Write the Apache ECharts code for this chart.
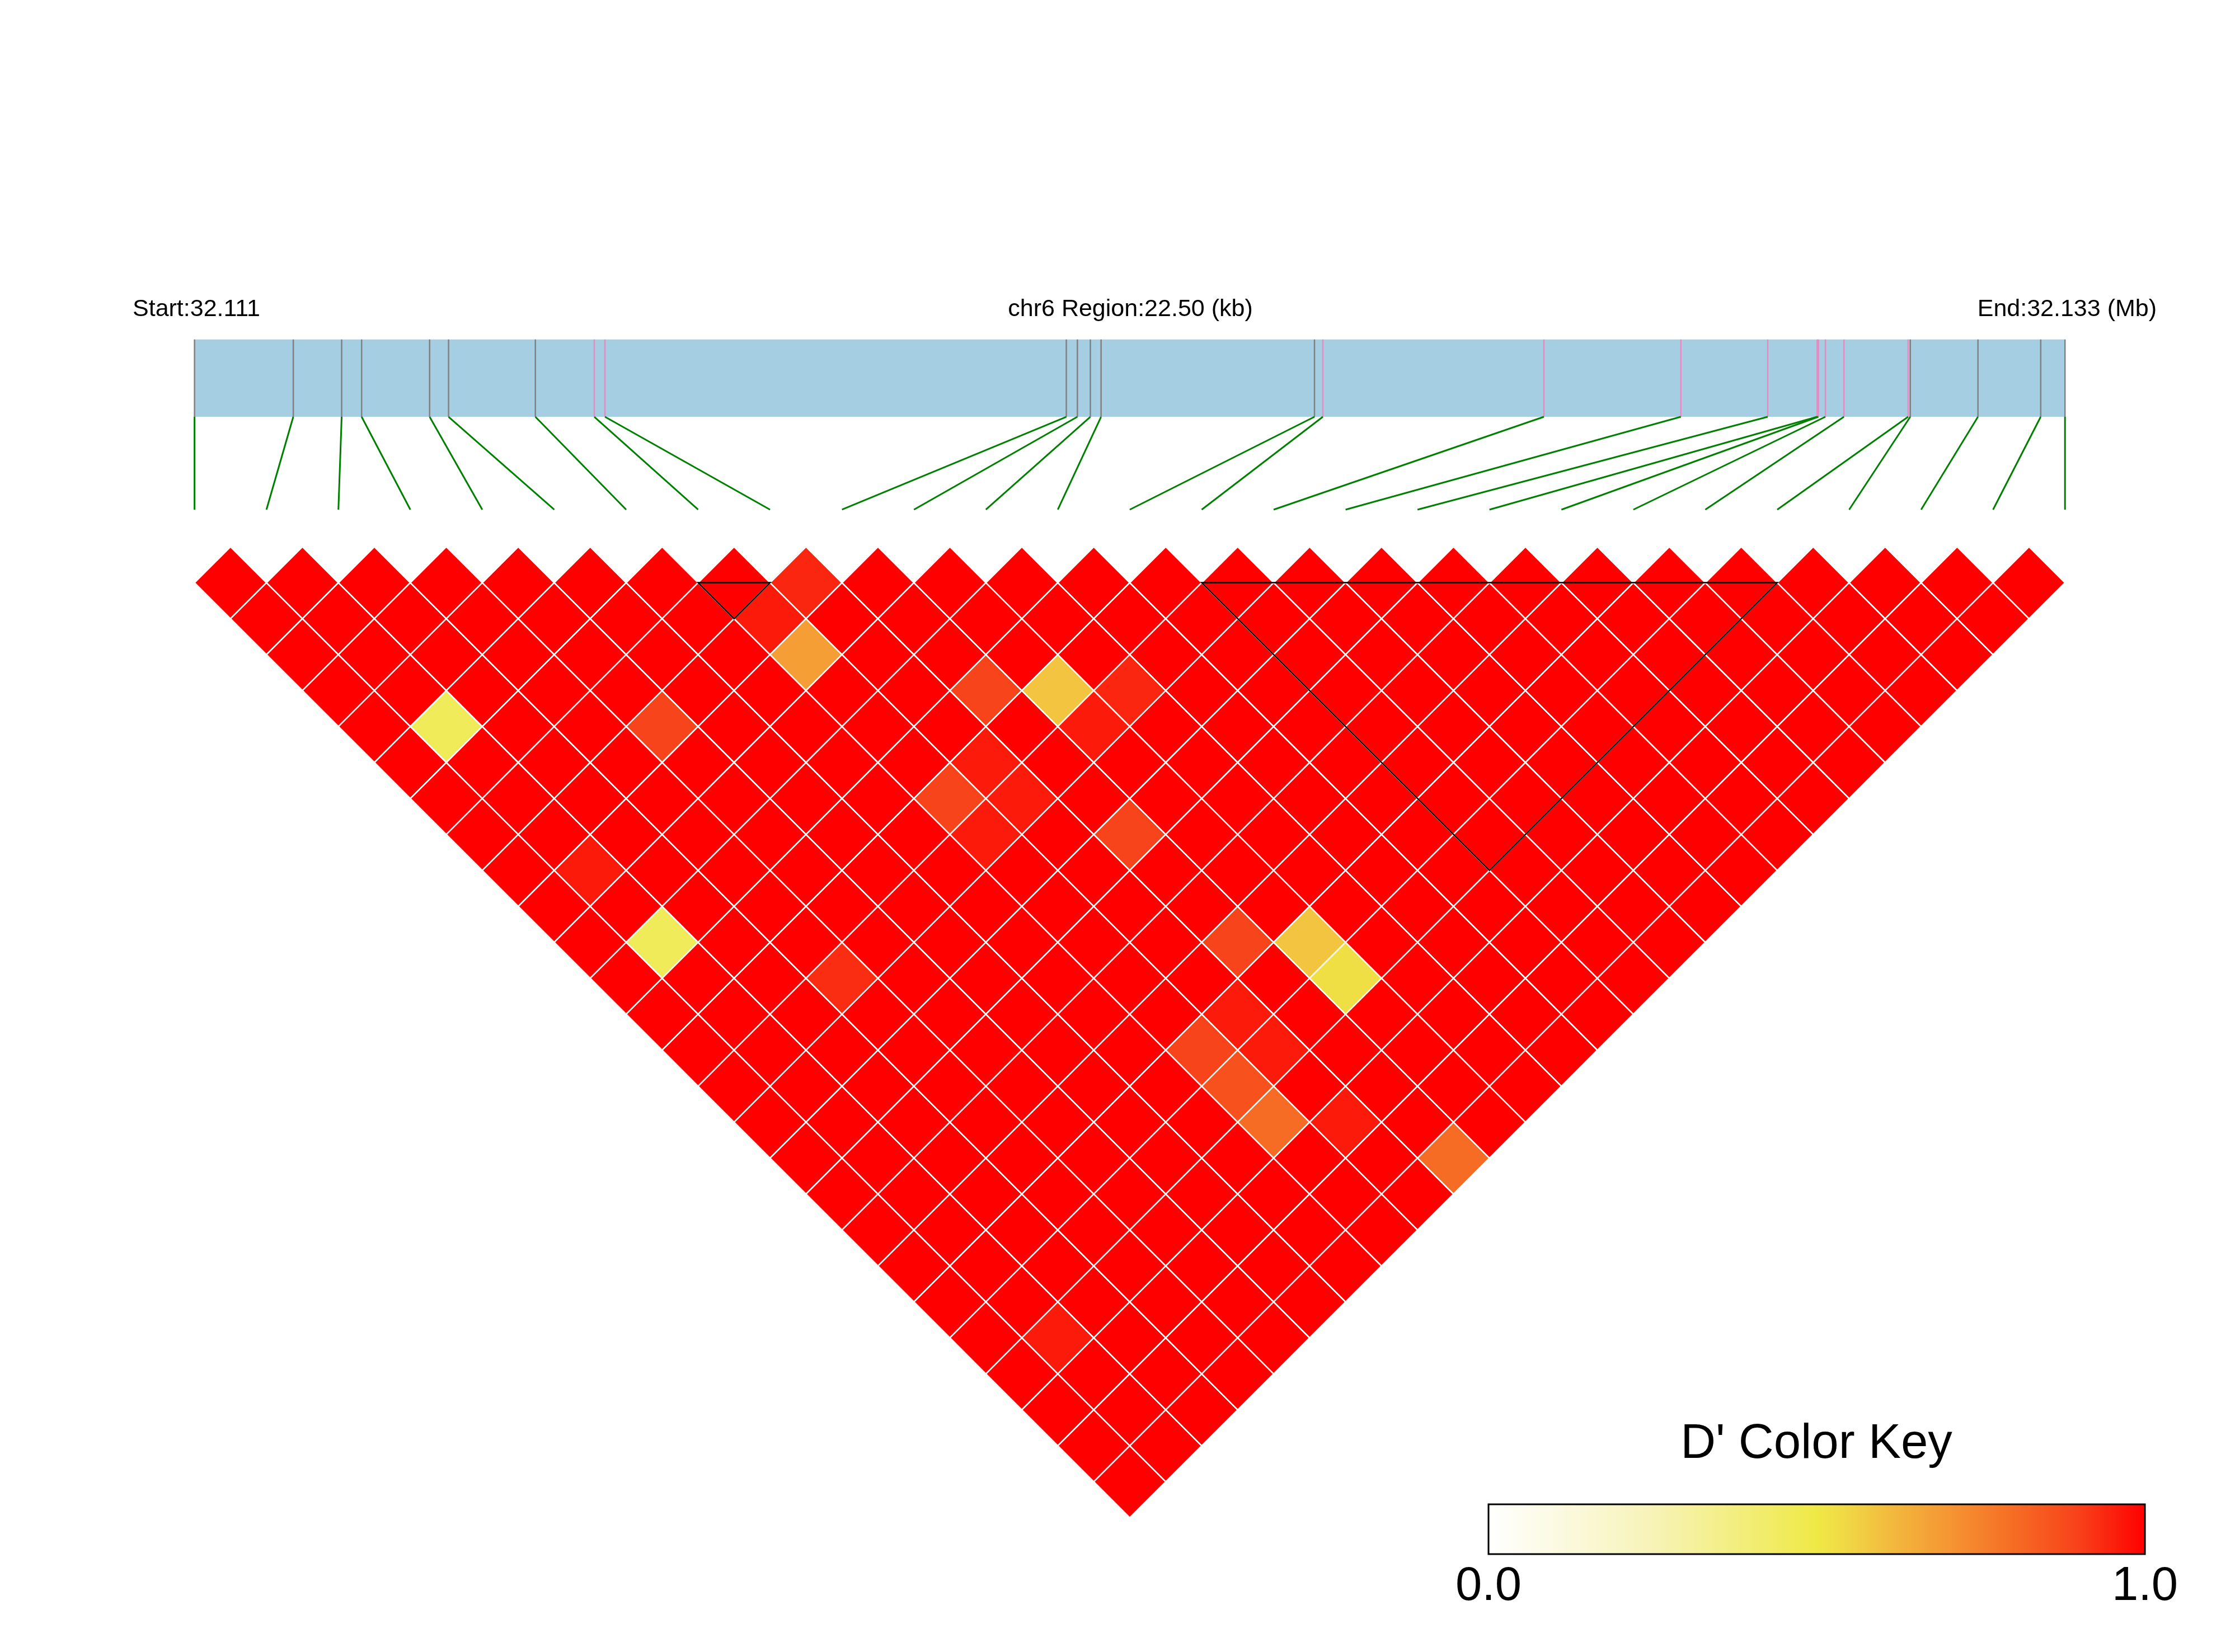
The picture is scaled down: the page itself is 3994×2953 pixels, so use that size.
<!DOCTYPE html>
<html><head><meta charset="utf-8">
<script src="https://cdn.jsdelivr.net/npm/echarts@6/dist/echarts.min.js"></script>
<style>html,body{margin:0;padding:0;background:#fff}#c{width:3994px;height:2953px}</style>
</head><body><div id="c"></div>
<script>
// ---------------- DATA ----------------
const headerTexts = ['Start:32.111', 'chr6 Region:22.50 (kb)', 'End:32.133 (Mb)'];
const REGION_BP = 22500;
// SNP positions (bp offset from region start)
const snpPositions = [0, 1188, 1770, 2010, 2828, 3056, 4100, 4809, 4937, 10487, 10620, 10776, 10905,
  13472, 13573, 16232, 17879, 18924, 19519, 19533, 19618, 19841, 20613, 20639, 21453, 22208, 22500];
// 1 = SNP inside an LD block (pink tick), 0 = other (grey tick)
const snpInBlock = [0,0,0,0,0,0,0,1,1,0,0,0,0,0,1,1,1,1,1,1,1,1,1,0,0,0,0];
// D' values: row i holds pairs (i, j) for j = i+1 .. last (1-based SNP order)
const dprimeRows = [
  [1,1,1,1,1,1,1,1,1,1,1,1,1,1,1,1,1,1,1,1,1,1,1,1,1,1],
  [1,1,1,1,0.46,1,1,1,0.96,1,0.46,1,1,1,1,1,1,1,1,1,1,0.96,1,1,1],
  [1,1,1,1,1,1,1,1,1,1,1,1,1,1,1,1,1,1,1,1,1,1,1,1],
  [1,1,1,1,1,1,1,1,1,1,1,0.93,1,1,1,1,1,1,1,1,1,1,1],
  [1,1,1,1,0.89,1,1,1,1,1,1,1,1,1,1,1,1,1,1,1,1,1],
  [1,1,1,1,1,1,1,1,1,1,1,1,1,1,1,1,1,1,1,1,1],
  [1,1,1,1,1,1,1,1,1,1,1,1,1,1,1,1,1,1,1,1],
  [1,0.96,0.68,1,1,1,0.89,0.96,1,1,1,1,1,0.89,0.86,0.80,1,1,1],
  [0.94,1,1,1,1,0.96,0.96,1,1,1,1,1,0.96,0.96,1,0.96,1,1],
  [1,1,1,0.89,1,1,1,0.89,1,1,0.89,1,1,1,1,1,0.80],
  [1,1,1,0.59,0.96,1,1,1,1,1,0.59,0.53,1,1,1,1],
  [1,1,1,0.94,1,1,1,1,1,1,1,1,1,1,1],
  [1,1,1,1,1,1,1,1,1,1,1,1,1,1],
  [1,1,1,1,1,1,1,1,1,1,1,1,1],
  [1,1,1,1,1,1,1,1,1,1,1,1],
  [1,1,1,1,1,1,1,1,1,1,1],
  [1,1,1,1,1,1,1,1,1,1],
  [1,1,1,1,1,1,1,1,1],
  [1,1,1,1,1,1,1,1],
  [1,1,1,1,1,1,1],
  [1,1,1,1,1,1],
  [1,1,1,1,1],
  [1,1,1,1],
  [1,1,1],
  [1,1],
  [1]
];
// LD blocks (first SNP, last SNP), 1-based
const blocks = [[8, 9], [15, 23]];
// Colour key
const keyTitle = "D' Color Key";
const keyTickValues = [0, 1];
const keyStopValues = [0, 0.25, 0.5, 0.55, 0.6, 0.7, 0.8, 0.9, 1.0];
const keyStopColors = ['#ffffff', '#f7f3b8', '#efe947', '#f0d644', '#f2bf3f', '#f59633', '#f66c24', '#f8401a', '#ff0000'];

// ---------------- HELPERS ----------------
const FONT = "'Liberation Sans', Arial, Helvetica, sans-serif";
const SNP_COUNT = snpPositions.length;
function hexToRgb(h) { return [1,3,5].map(k => parseInt(h.substr(k, 2), 16)); }
function colorFor(v) {
  for (let k = 1; k < keyStopValues.length; k++) {
    if (v <= keyStopValues[k]) {
      const t = (v - keyStopValues[k-1]) / (keyStopValues[k] - keyStopValues[k-1]);
      const a = hexToRgb(keyStopColors[k-1]), b = hexToRgb(keyStopColors[k]);
      const c = a.map((x, n) => Math.round(x + (b[n] - x) * t));
      return 'rgb(' + c.join(',') + ')';
    }
  }
  return keyStopColors[keyStopColors.length - 1];
}
const heatData = [];
dprimeRows.forEach((row, i) => row.forEach((v, k) => heatData.push([i, i + 1 + k, v])));
const snpData = snpPositions.map((p, k) => [p, k, snpInBlock[k]]);
const blockData = blocks.map(b => [b[0] - 1, b[1] - 1]);

// vertical layout (in half-cell units of the main grid's y axis)
const BAR_TOP = -6.764, BAR_BOTTOM = -4.614, LINK_BOTTOM = -2.032;

const chart = echarts.init(document.getElementById('c'));
chart.setOption({
  backgroundColor: '#ffffff',
  animation: false,
  grid: [
    { left: 347.6, right: 303.8, top: 591.64, height: 2121.24 },
    { left: 2660, top: 2689, width: 1173, height: 89 }
  ],
  xAxis: [
    { gridIndex: 0, type: 'value', min: 0, max: SNP_COUNT - 1, show: false },
    { gridIndex: 0, type: 'value', min: 0, max: REGION_BP, show: false },
    { gridIndex: 1, type: 'value', min: 0, max: 1, interval: 1,
      axisLine: { show: false }, axisTick: { show: false }, splitLine: { show: false },
      axisLabel: { fontSize: 85, color: '#000', fontFamily: FONT, margin: 16,
        showMinLabel: true, showMaxLabel: true,
        formatter: v => keyTickValues.indexOf(v) >= 0 ? v.toFixed(1) : '' } }
  ],
  yAxis: [
    { gridIndex: 0, type: 'value', min: -7, max: 26, inverse: true, show: false },
    { gridIndex: 1, type: 'value', min: 0, max: 1, show: false }
  ],
  graphic: [
    { type: 'text', x: 237, y: 553, style: { text: headerTexts[0], font: '43px ' + FONT, fill: '#000', textAlign: 'left', textVerticalAlign: 'middle' } },
    { type: 'text', x: 2020, y: 553, style: { text: headerTexts[1], font: '43px ' + FONT, fill: '#000', textAlign: 'center', textVerticalAlign: 'middle' } },
    { type: 'text', x: 3854, y: 553, style: { text: headerTexts[2], font: '43px ' + FONT, fill: '#000', textAlign: 'right', textVerticalAlign: 'middle' } },
    { type: 'text', x: 3246, y: 2582, style: { text: keyTitle, font: '87px ' + FONT, fill: '#000', textAlign: 'center', textVerticalAlign: 'middle' } }
  ],
  series: [
    { // gene bar
      type: 'custom', xAxisIndex: 1, yAxisIndex: 0, silent: true,
      data: [[0, REGION_BP]],
      renderItem: (params, api) => {
        const p0 = api.coord([api.value(0), BAR_TOP]);
        const p1 = api.coord([api.value(1), BAR_BOTTOM]);
        return { type: 'rect', shape: { x: p0[0], y: p0[1], width: p1[0] - p0[0], height: p1[1] - p0[1] },
          style: { fill: '#a6cee3' } };
      }
    },
    { // SNP ticks + connector lines
      type: 'custom', xAxisIndex: 1, yAxisIndex: 0, silent: true,
      data: snpData,
      renderItem: (params, api) => {
        const x = api.value(0), k = api.value(1), inB = api.value(2);
        const t = api.coord([x, BAR_TOP]), b = api.coord([x, BAR_BOTTOM]);
        const e = api.coord([k * REGION_BP / (SNP_COUNT - 1), LINK_BOTTOM]);
        return { type: 'group', children: [
          { type: 'line', shape: { x1: t[0], y1: t[1], x2: b[0], y2: b[1] },
            style: { stroke: inB ? '#e78ac3' : '#808080', lineWidth: 2.5 } },
          { type: 'line', shape: { x1: b[0], y1: b[1], x2: e[0], y2: e[1] },
            style: { stroke: '#008000', lineWidth: 3 } }
        ] };
      }
    },
    { // LD heatmap diamonds
      type: 'custom', xAxisIndex: 0, yAxisIndex: 0, silent: true,
      data: heatData,
      renderItem: (params, api) => {
        const i = api.value(0), j = api.value(1), v = api.value(2);
        const cx = (i + j) / 2, cy = j - i - 1;
        const pts = [api.coord([cx - 0.5, cy]), api.coord([cx, cy - 1]), api.coord([cx + 0.5, cy]), api.coord([cx, cy + 1])];
        return { type: 'polygon', shape: { points: pts },
          style: { fill: colorFor(v), stroke: '#ffffff', lineWidth: 2.5 } };
      }
    },
    { // block outlines
      type: 'custom', xAxisIndex: 0, yAxisIndex: 0, silent: true, z: 5,
      data: blockData,
      renderItem: (params, api) => {
        const a = api.value(0), b = api.value(1);
        const pts = [api.coord([a, 0]), api.coord([b, 0]), api.coord([(a + b) / 2, b - a])];
        return { type: 'polygon', shape: { points: pts },
          style: { fill: 'none', stroke: '#000000', lineWidth: 2.5 } };
      }
    },
    { // colour key bar
      type: 'custom', xAxisIndex: 2, yAxisIndex: 1, silent: true,
      data: [[0, 1]],
      renderItem: (params, api) => {
        const p0 = api.coord([api.value(0), 1]);
        const p1 = api.coord([api.value(1), 0]);
        return { type: 'rect', shape: { x: p0[0], y: p0[1], width: p1[0] - p0[0], height: p1[1] - p0[1] },
          style: { fill: { type: 'linear', x: 0, y: 0, x2: 1, y2: 0,
              colorStops: keyStopValues.map((o, n) => ({ offset: o, color: keyStopColors[n] })) },
            stroke: '#000000', lineWidth: 3 } };
      }
    }
  ]
});
</script></body></html>
